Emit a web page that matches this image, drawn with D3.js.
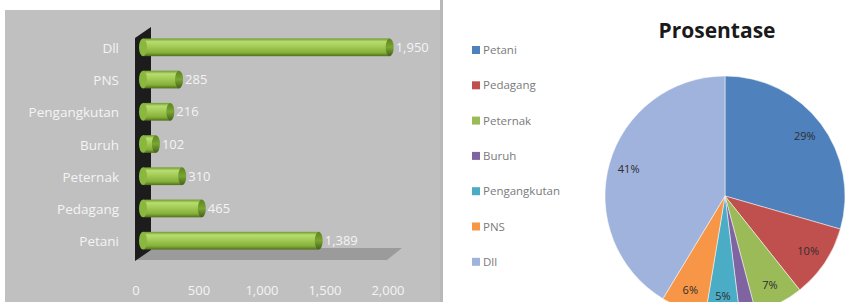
<!DOCTYPE html>
<html><head><meta charset="utf-8">
<script src="https://cdn.jsdelivr.net/npm/d3@7/dist/d3.min.js"></script>
<style>html,body{margin:0;padding:0;background:#fff;}svg{display:block;}</style>
</head><body>
<svg id="c" width="847" height="302"></svg>
<script>
const categories = ["Petani","Pedagang","Peternak","Buruh","Pengangkutan","PNS","Dll"];
const values = [1389,465,310,102,216,285,1950];
const xTicks = [0,500,1000,1500,2000];
const pieColors = ["#4f81bd","#c0504d","#9bbb59","#8064a2","#4bacc6","#f79646","#9fb3dc"];
const pieTitle = "Prosentase";

const svg = d3.select("#c");
const defs = svg.append("defs");

// ---------- left: 3D-ish bar chart ----------
svg.append("rect").attr("x",5).attr("y",10).attr("width",435).attr("height",292).attr("fill","#c0c0c0");

const x = d3.scaleLinear().domain([0,2000]).range([143,396]);
const xLab = d3.scaleLinear().domain([0,2000]).range([136,388]);
const y = d3.scaleBand().domain(categories.slice().reverse()).range([32,256]).paddingInner(0.45).paddingOuter(0.2);

// floor
svg.append("path").attr("d","M135,260 L387,260 L402,248 L150,248 Z").attr("fill","#9b9b9b");
// wall
svg.append("path").attr("d","M135,38 L151,27 L151,250 L135,261 Z").attr("fill","#1c1c1c");

const grad = defs.append("linearGradient").attr("id","cyl").attr("x1",0).attr("y1",0).attr("x2",0).attr("y2",1);
grad.append("stop").attr("offset","0%").attr("stop-color","#6f9a2a");
grad.append("stop").attr("offset","18%").attr("stop-color","#b8dc72");
grad.append("stop").attr("offset","45%").attr("stop-color","#a3cc55");
grad.append("stop").attr("offset","80%").attr("stop-color","#86b03a");
grad.append("stop").attr("offset","100%").attr("stop-color","#4f6f1a");
const capGrad = defs.append("linearGradient").attr("id","cap").attr("x1",0).attr("y1",0).attr("x2",0).attr("y2",1);
capGrad.append("stop").attr("offset","0%").attr("stop-color","#5c8420");
capGrad.append("stop").attr("offset","50%").attr("stop-color","#7aa632");
capGrad.append("stop").attr("offset","100%").attr("stop-color","#44601a");

const bars = svg.append("g");
const data = categories.map((c,i)=>({c, v: values[i], color: pieColors[i]}));
data.forEach(d=>{
  const y0 = y(d.c), h = y.bandwidth(), x0 = x(0), x1 = x(d.v);
  const rx = 4;
  bars.append("rect").attr("x",x0).attr("y",y0).attr("width",Math.max(0,x1-x0)).attr("height",h).attr("fill","url(#cyl)");
  bars.append("ellipse").attr("cx",x1).attr("cy",y0+h/2).attr("rx",rx).attr("ry",h/2).attr("fill","url(#cap)");
  bars.append("ellipse").attr("cx",x0).attr("cy",y0+h/2).attr("rx",rx).attr("ry",h/2).attr("fill","#8ab83e");
  svg.append("text").attr("x",x1+6).attr("y",y0+h/2).attr("dy","0.35em")
    .attr("font-family","Open Sans").attr("font-size",13).attr("fill","#f4f4f4")
    .text(d3.format(",")(d.v));
});

// category labels
svg.append("g").selectAll("text").data(categories).join("text")
  .attr("x",119).attr("y",d=>y(d)+y.bandwidth()/2+1).attr("dy","0.35em")
  .attr("text-anchor","end").attr("font-family","Open Sans").attr("font-size",13.5).attr("fill","#f4f4f4")
  .text(d=>d);

// x tick labels
svg.append("g").selectAll("text").data(xTicks).join("text")
  .attr("x",d=>xLab(d)).attr("y",290).attr("dy","0.35em").attr("text-anchor","middle")
  .attr("font-family","Open Sans").attr("font-size",13).attr("fill","#f4f4f4")
  .text(d=>d3.format(",")(d));

// ---------- right: pie ----------
svg.append("rect").attr("x",440).attr("y",0).attr("width",3).attr("height",302).attr("fill","#b8b8b8");

svg.append("text").attr("x",717).attr("y",31).attr("dy","0.35em").attr("text-anchor","middle")
  .attr("font-family","Open Sans").attr("font-weight","bold").attr("font-size",21).attr("fill","#1a1a1a")
  .text(pieTitle);

const legend = svg.append("g");
data.forEach((d,i)=>{
  const ly = 50 + i*35.3;
  legend.append("rect").attr("x",472).attr("y",ly-4).attr("width",8).attr("height",8).attr("fill",d.color);
  legend.append("text").attr("x",483).attr("y",ly).attr("dy","0.35em")
    .attr("font-family","Open Sans").attr("font-size",11.5).attr("fill","#7a7a7a").text(d.c);
});

const cx = 725, cy = 196, r = 120;
const total = d3.sum(values);
const pie = d3.pie().sort(null).value(d=>d.v);
const arc = d3.arc().innerRadius(0).outerRadius(r);
const labelArc = d3.arc().innerRadius(100).outerRadius(100);
const pg = svg.append("g").attr("transform",`translate(${cx},${cy})`);
const arcs = pie(data);
pg.selectAll("path").data(arcs).join("path").attr("d",arc).attr("fill",d=>d.data.color)
  .attr("stroke","#ffffff").attr("stroke-width",0.5);
pg.selectAll("text").data(arcs.filter(a=>a.data.v/total>=0.03)).join("text")
  .attr("transform",d=>`translate(${labelArc.centroid(d)})`).attr("dy","0.35em").attr("text-anchor","middle")
  .attr("font-family","Open Sans").attr("font-size",11).attr("fill","#2e2e2e")
  .text(d=>d3.format(".0%")(d.data.v/total));
</script>
</body></html>
